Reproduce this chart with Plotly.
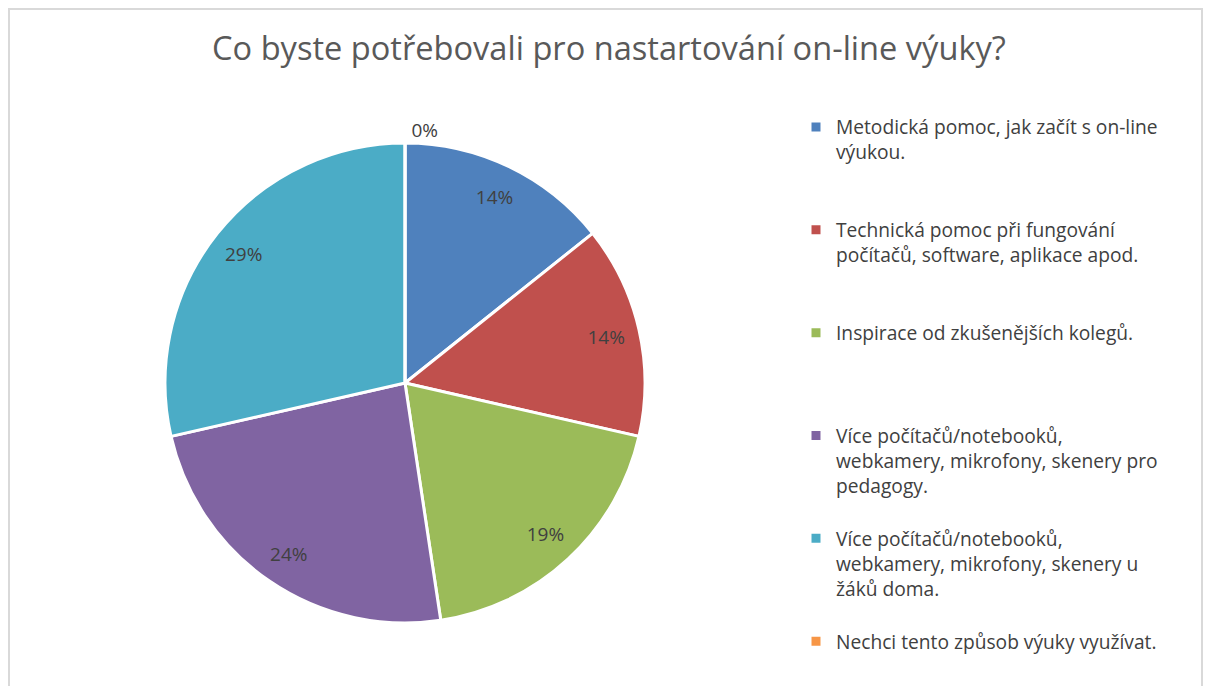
import plotly.graph_objects as go

TITLE = 'Co byste potřebovali pro nastartování on-line výuky?'

labels = [
    'Metodická pomoc, jak začít s on-line<br>výukou.',
    'Technická pomoc při fungování<br>počítačů, software, aplikace apod.',
    'Inspirace od zkušenějších kolegů.',
    'Více počítačů/notebooků,<br>webkamery, mikrofony, skenery pro<br>pedagogy.',
    'Více počítačů/notebooků,<br>webkamery, mikrofony, skenery u<br>žáků doma.',
    'Nechci tento způsob výuky využívat.',
]
counts = [3, 3, 4, 5, 6, 0]
colors = ['#4F81BD', '#C0504D', '#9BBB59', '#8064A2', '#4BACC6', '#F79646']

# the page body keeps its default 8px margin, so the figure is drawn 8px in
OFF = 8
W, H = 1212 - OFF, 686 - OFF
FONT = 'Open Sans'
TEXT_GREY = '#404040'


def px(x):
    return (x - OFF) / W


def py(y):
    return 1 - (y - OFF) / H


def pad_lines(text, n=4):
    # Excel spaces legend entries evenly; pad each entry to the same line count
    k = text.count('<br>') + 1
    return text + '<br>\u00a0' * (n - k)


legend_labels = [pad_lines(t) for t in labels[:-1]] + labels[-1:]
text_pos = ['inside' if v > 0 else 'outside' for v in counts]
pie_domain = dict(x=[px(165), px(645)], y=[py(623), py(143)])

fig = go.Figure()
# the coloured slices, no text
fig.add_trace(go.Pie(
    labels=legend_labels, values=counts, sort=False, direction='clockwise',
    marker=dict(colors=colors, line=dict(color='white', width=3)),
    textinfo='none', domain=pie_domain,
))
# transparent ring on top: puts the percentages out near the rim like Excel
fig.add_trace(go.Pie(
    labels=legend_labels, values=counts, sort=False, direction='clockwise',
    hole=0.72, showlegend=False, hoverinfo='skip',
    marker=dict(colors=['rgba(0,0,0,0)'] * len(counts), line=dict(width=0)),
    textinfo='percent', texttemplate='%{percent:.0%}',
    textposition=text_pos, insidetextorientation='horizontal',
    textfont=dict(size=19, color=TEXT_GREY, family=FONT),
    domain=pie_domain,
))

fig.add_shape(type='rect', xref='paper', yref='paper',
              x0=1 / W, x1=px(1202), y0=-0.05, y1=1 - 1 / H,
              line=dict(color='#d9d9d9', width=2))

fig.update_layout(
    width=W, height=H, margin=dict(l=0, r=0, t=0, b=0, autoexpand=False),
    paper_bgcolor='white',
    font=dict(family=FONT, color=TEXT_GREY),
    title=dict(text=TITLE, x=px(609), xanchor='center', y=py(49), yanchor='middle',
               font=dict(size=32.6, color='#595959', family=FONT)),
    legend=dict(x=px(796), xanchor='left', y=py(108), yanchor='top',
                valign='top', maxheight=H,
                font=dict(size=19.2, color=TEXT_GREY, family=FONT),
                bgcolor='rgba(0,0,0,0)'),
)

fig.write_html('out.html')
